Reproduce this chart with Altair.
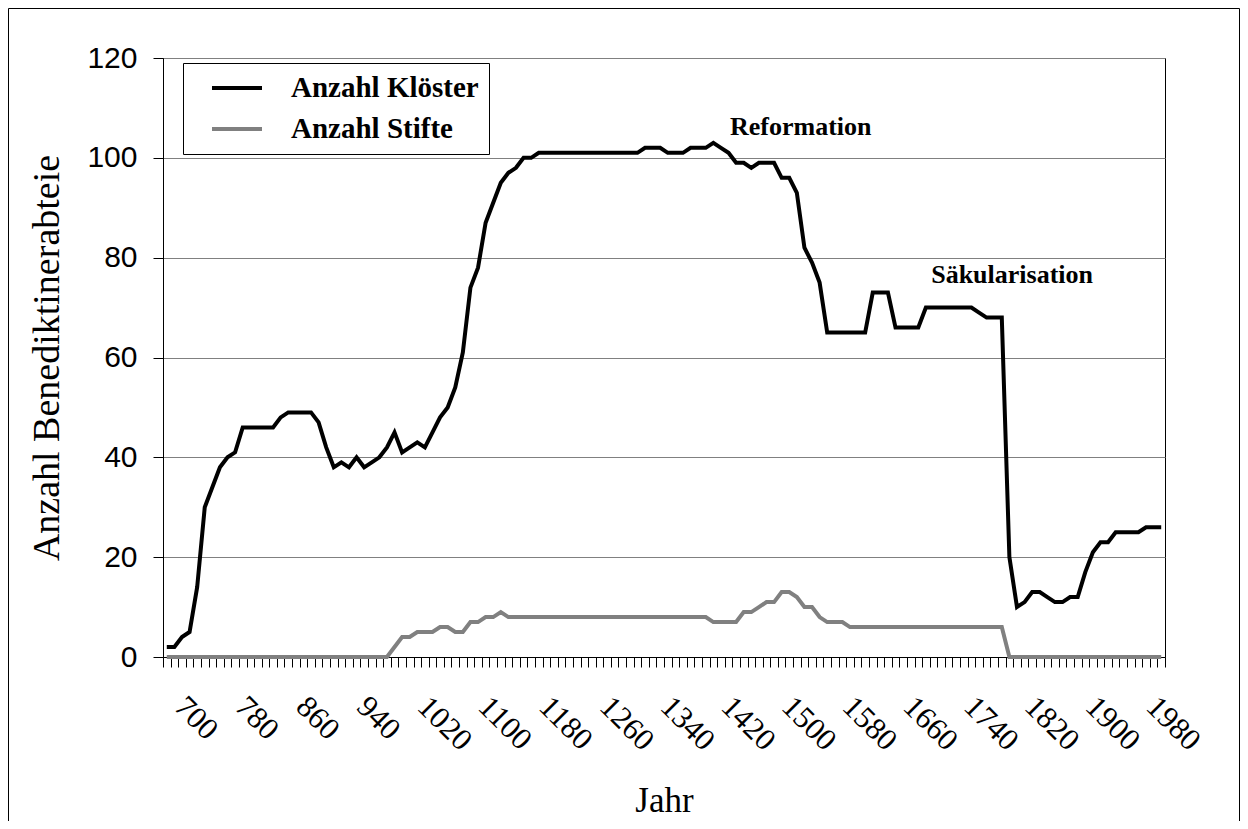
import altair as alt
import pandas as pd

# ---------------- data ----------------
years = list(range(670, 1990, 10))

kloester = [
    2, 2, 4, 5, 14, 30, 34, 38, 40, 41,          # 670-760
    46, 46, 46, 46, 46, 48, 49, 49, 49, 49,      # 770-860
    47, 42, 38, 39, 38, 40, 38, 39, 40, 42,      # 870-960
    45, 41, 42, 43, 42, 45, 48, 50, 54, 61,      # 970-1060
    74, 78, 87, 91, 95, 97, 98, 100, 100, 101,   # 1070-1160
    101, 101, 101, 101, 101, 101, 101, 101, 101, 101,  # 1170-1260
    101, 101, 101, 102, 102, 102, 101, 101, 101, 102,  # 1270-1360
    102, 102, 103, 102, 101, 99, 99, 98, 99, 99,       # 1370-1460
    99, 96, 96, 93, 82, 79, 75, 65, 65, 65,            # 1470-1560
    65, 65, 65, 73, 73, 73, 66, 66, 66, 66,            # 1570-1660
    70, 70, 70, 70, 70, 70, 70, 69, 68, 68,            # 1670-1760
    68, 20, 10, 11, 13, 13, 12, 11, 11, 12,            # 1770-1860
    12, 17, 21, 23, 23, 25, 25, 25, 25, 26,            # 1870-1960
    26, 26,                                            # 1970-1980
]

stifte = [
    0, 0, 0, 0, 0, 0, 0, 0, 0, 0,                # 670-760
    0, 0, 0, 0, 0, 0, 0, 0, 0, 0,                # 770-860
    0, 0, 0, 0, 0, 0, 0, 0, 0, 0,                # 870-960
    2, 4, 4, 5, 5, 5, 6, 6, 5, 5,                # 970-1060
    7, 7, 8, 8, 9, 8, 8, 8, 8, 8,                # 1070-1160
    8, 8, 8, 8, 8, 8, 8, 8, 8, 8,                # 1170-1260
    8, 8, 8, 8, 8, 8, 8, 8, 8, 8,                # 1270-1360
    8, 8, 7, 7, 7, 7, 9, 9, 10, 11,              # 1370-1460
    11, 13, 13, 12, 10, 10, 8, 7, 7, 7,          # 1470-1560
    6, 6, 6, 6, 6, 6, 6, 6, 6, 6,                # 1570-1660
    6, 6, 6, 6, 6, 6, 6, 6, 6, 6,                # 1670-1760
    6, 0, 0, 0, 0, 0, 0, 0, 0, 0,                # 1770-1860
    0, 0, 0, 0, 0, 0, 0, 0, 0, 0,                # 1870-1960
    0, 0,                                        # 1970-1980
]

series_names = ["Anzahl Klöster", "Anzahl Stifte"]
series_colors = ["#000000", "#808080"]

label_years = list(range(700, 1981, 80))
tick_bounds = [y - 5 for y in years] + [years[-1] + 5]
y_ticks = [0, 20, 40, 60, 80, 100, 120]

notes_text = ["Reformation", "Säkularisation"]
notes_year = [1412, 1677]
notes_value = [104.5, 75.0]

assert len(kloester) == len(years) and len(stifte) == len(years)

rows = []
for i, yr in enumerate(years):
    rows.append({"Jahr": yr, "Serie": series_names[0], "Wert": kloester[i]})
    rows.append({"Jahr": yr, "Serie": series_names[1], "Wert": stifte[i]})
df = pd.DataFrame(rows)
notes_df = pd.DataFrame({"Jahr": notes_year, "Wert": notes_value, "Text": notes_text})

# ---------------- scales / axes ----------------
x_scale = alt.Scale(domain=[years[0] - 5, years[-1] + 5], nice=False, zero=False)
y_scale = alt.Scale(domain=[0, 120], nice=False, zero=True)

y_axis = alt.Axis(
    values=y_ticks, grid=True, gridColor="#808080", gridWidth=1,
    domain=True, domainColor="black", domainWidth=1,
    ticks=True, tickColor="black", tickSize=10, tickWidth=1,
    labelFont="Liberation Sans", labelFontSize=30, labelColor="black", labelPadding=16,
    title="Anzahl Benediktinerabteie", titleFont="Liberation Serif", titleFontSize=38,
    titleFontWeight="normal", titleColor="black", titlePadding=20,
)

x_label_axis = alt.Axis(
    orient="bottom", values=label_years, format="d", labelAngle=45, labelAlign="left",
    labelBaseline="top", ticks=False, tickSize=0, domain=False, grid=False,
    labelFont="Liberation Serif", labelFontSize=31, labelColor="black", labelPadding=34,
    labelOverlap=False, labelFlush=False,
    title="Jahr", titleFont="Liberation Serif", titleFontSize=35, titleFontWeight="normal",
    titleColor="black", titlePadding=27,
)

x_tick_axis = alt.Axis(
    orient="bottom", values=tick_bounds, labels=False, ticks=True, tickSize=10, tickColor="black",
    tickWidth=1, domain=True, domainColor="black", domainWidth=1, grid=False, title=None,
)

frame = alt.Chart(pd.DataFrame({"a": [0]})).mark_rect(
    fillOpacity=0, stroke="black", strokeWidth=1
).encode(
    x=alt.value(-154.5), x2=alt.value(1076.5), y=alt.value(-49.5), y2=alt.value(800)
)

lines = alt.Chart(df).mark_line(strokeWidth=4).encode(
    x=alt.X("Jahr:Q", scale=x_scale, axis=x_label_axis),
    y=alt.Y("Wert:Q", scale=y_scale, axis=y_axis),
    color=alt.Color(
        "Serie:N",
        scale=alt.Scale(domain=series_names, range=series_colors),
        sort=series_names,
        legend=alt.Legend(
            title=None, orient="none", legendX=20, legendY=5,
            strokeColor="black", fillColor="white", padding=10,
            symbolType="stroke", symbolStrokeWidth=4, symbolSize=2500,
            clipHeight=30, rowPadding=11, symbolOffset=17, labelOffset=27,
            labelFont="Liberation Serif", labelFontWeight="bold", labelFontSize=29,
            labelColor="black", labelLimit=500,
        ),
    ),
    order=alt.Order("Jahr:Q"),
)

tick_layer = alt.Chart(df).mark_line(opacity=0).encode(
    x=alt.X("Jahr:Q", scale=x_scale, axis=x_tick_axis),
    y=alt.Y("Wert:Q", scale=y_scale, axis=y_axis),
    detail="Serie:N",
)

notes = alt.Chart(notes_df).mark_text(
    font="Liberation Serif", fontWeight="bold", fontSize=26, align="left",
    baseline="alphabetic", color="black"
).encode(
    x=alt.X("Jahr:Q", scale=x_scale, axis=None),
    y=alt.Y("Wert:Q", scale=y_scale, axis=y_axis),
    text="Text:N",
)

chart = alt.layer(frame, tick_layer, lines, notes).resolve_axis(
    x="independent"
).properties(
    width=1002, height=599,
    autosize=alt.AutoSizeParams(type="none"),
    padding={"left": 155, "top": 50, "right": 75, "bottom": 164},
    background="white",
).configure_view(stroke="black", strokeWidth=1)

chart.save("out.html", embed_options={"renderer": "svg", "actions": False})
